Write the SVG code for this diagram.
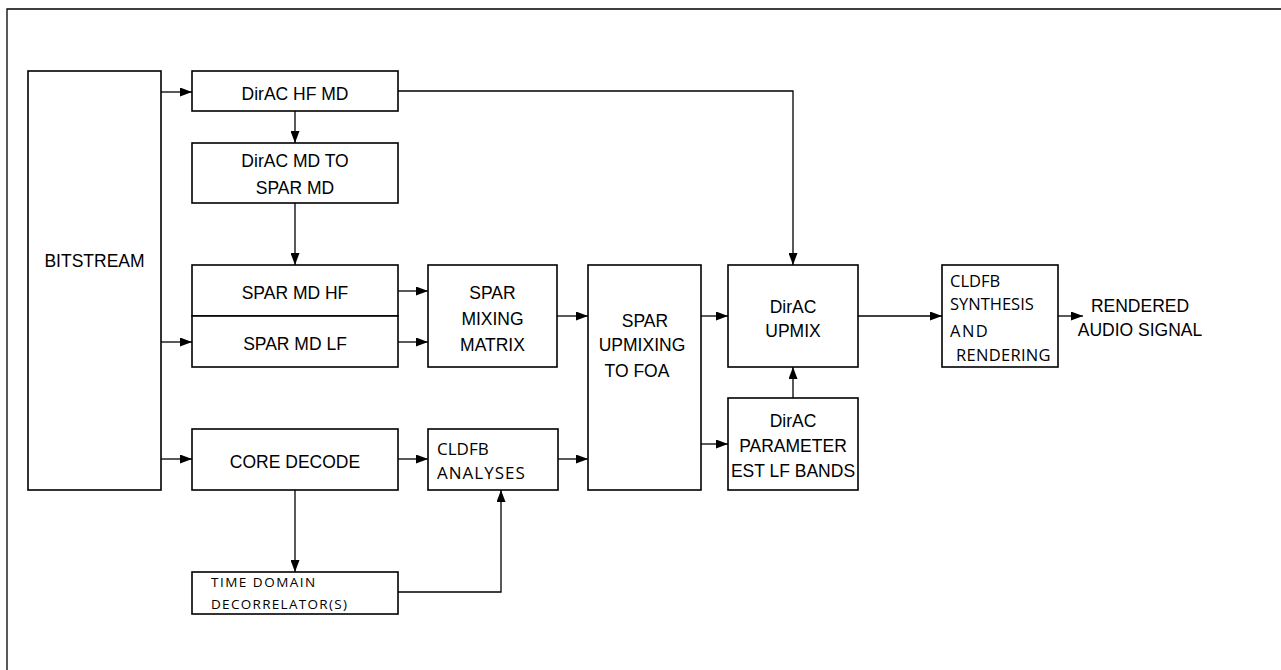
<svg xmlns="http://www.w3.org/2000/svg" width="1281" height="670" viewBox="0 0 1281 670">
<style>
.box{fill:#fff;stroke:#000;stroke-width:1.6}
.t{font-family:"Liberation Sans",Arial,sans-serif;font-size:17.5px;fill:#000;text-anchor:middle}
.c{font-family:"Open Sans","Liberation Sans",sans-serif;fill:#000}
.ln{fill:none;stroke:#000;stroke-width:1.3}
</style>
<defs>
<marker id="ah" viewBox="0 0 12 9" refX="12" refY="4.5" markerWidth="12" markerHeight="9" markerUnits="userSpaceOnUse" orient="auto">
<path d="M0,0 L12,4.5 L0,9 Z" fill="#000"/>
</marker>
</defs>
<rect width="1281" height="670" fill="#fff"/>
<path d="M7,670 V9 H1281" fill="none" stroke="#000" stroke-width="1.3"/>

<g id="bitstream"><rect class="box" x="28" y="71" width="133" height="419"/><text class="t" x="94.5" y="267">BITSTREAM</text></g>
<g id="dirac-hf-md"><rect class="box" x="192" y="71" width="206" height="40"/><text class="t" x="295" y="100">DirAC HF MD</text></g>
<g id="dirac-md-to-spar"><rect class="box" x="192" y="143" width="206" height="60"/><text class="t" x="295" y="167">DirAC MD TO</text><text class="t" x="295" y="194">SPAR MD</text></g>
<g id="spar-md-hf"><rect class="box" x="192" y="265" width="206" height="51"/><text class="t" x="295" y="299">SPAR MD HF</text></g>
<g id="spar-md-lf"><rect class="box" x="192" y="316" width="206" height="51"/><text class="t" x="295" y="350">SPAR MD LF</text></g>
<g id="core-decode"><rect class="box" x="192" y="429" width="206" height="61"/><text class="t" x="295" y="468">CORE DECODE</text></g>
<g id="time-domain"><rect class="box" x="192" y="572" width="206" height="42"/><text class="c" x="211" y="587" font-size="13.5" letter-spacing="1.5">TIME DOMAIN</text><text class="c" x="211" y="609" font-size="13.5" letter-spacing="1.3">DECORRELATOR(S)</text></g>
<g id="spar-mixing"><rect class="box" x="428" y="265" width="129" height="102"/><text class="t" x="492.5" y="299">SPAR</text><text class="t" x="492.5" y="325">MIXING</text><text class="t" x="492.5" y="351">MATRIX</text></g>
<g id="cldfb-analyses"><rect class="box" x="428" y="429" width="130" height="61"/><text class="c" x="437" y="455" font-size="17">CLDFB</text><text class="c" x="437" y="479" font-size="17" letter-spacing="1">ANALYSES</text></g>
<g id="spar-upmixing"><rect class="box" x="588" y="265" width="113" height="225"/><text class="t" x="645" y="327">SPAR</text><text class="t" x="642" y="351">UPMIXING</text><text class="t" x="637" y="377">TO FOA</text></g>
<g id="dirac-upmix"><rect class="box" x="728" y="265" width="130" height="102"/><text class="t" x="793" y="313">DirAC</text><text class="t" x="793" y="337">UPMIX</text></g>
<g id="dirac-param"><rect class="box" x="728" y="398" width="130" height="92"/><text class="t" x="793" y="427">DirAC</text><text class="t" x="793" y="452">PARAMETER</text><text class="t" x="793" y="477">EST LF BANDS</text></g>
<g id="cldfb-synthesis"><rect class="box" x="942" y="265" width="116" height="102"/><text class="c" x="950" y="287" font-size="16.5">CLDFB</text><text class="c" x="950" y="310" font-size="16.5">SYNTHESIS</text><text class="c" x="950" y="337" font-size="16.5" letter-spacing="1.5">AND</text><text class="c" x="956" y="361" font-size="16.5" letter-spacing="0.3">RENDERING</text></g>
<g id="rendered-output"><text class="t" x="1140" y="312">RENDERED</text><text class="t" x="1140" y="336">AUDIO SIGNAL</text></g>

<g id="connectors" class="ln">
<path class="ln" d="M161,92 H192" marker-end="url(#ah)"/>
<path class="ln" d="M161,342 H192" marker-end="url(#ah)"/>
<path class="ln" d="M161,459 H192" marker-end="url(#ah)"/>
<path class="ln" d="M295,111 V143" marker-end="url(#ah)"/>
<path class="ln" d="M295,203 V265" marker-end="url(#ah)"/>
<path class="ln" d="M398,291 H428" marker-end="url(#ah)"/>
<path class="ln" d="M398,342 H428" marker-end="url(#ah)"/>
<path class="ln" d="M557,316 H588" marker-end="url(#ah)"/>
<path class="ln" d="M398,459 H428" marker-end="url(#ah)"/>
<path class="ln" d="M558,459 H588" marker-end="url(#ah)"/>
<path class="ln" d="M295,490 V572" marker-end="url(#ah)"/>
<path class="ln" d="M398,592 H501 V490" marker-end="url(#ah)"/>
<path class="ln" d="M398,91 H793 V265" marker-end="url(#ah)"/>
<path class="ln" d="M701,316 H728" marker-end="url(#ah)"/>
<path class="ln" d="M701,444 H728" marker-end="url(#ah)"/>
<path class="ln" d="M793,398 V367" marker-end="url(#ah)"/>
<path class="ln" d="M858,316 H942" marker-end="url(#ah)"/>
<path class="ln" d="M1058,316 H1083" marker-end="url(#ah)"/>
</g>
</svg>
